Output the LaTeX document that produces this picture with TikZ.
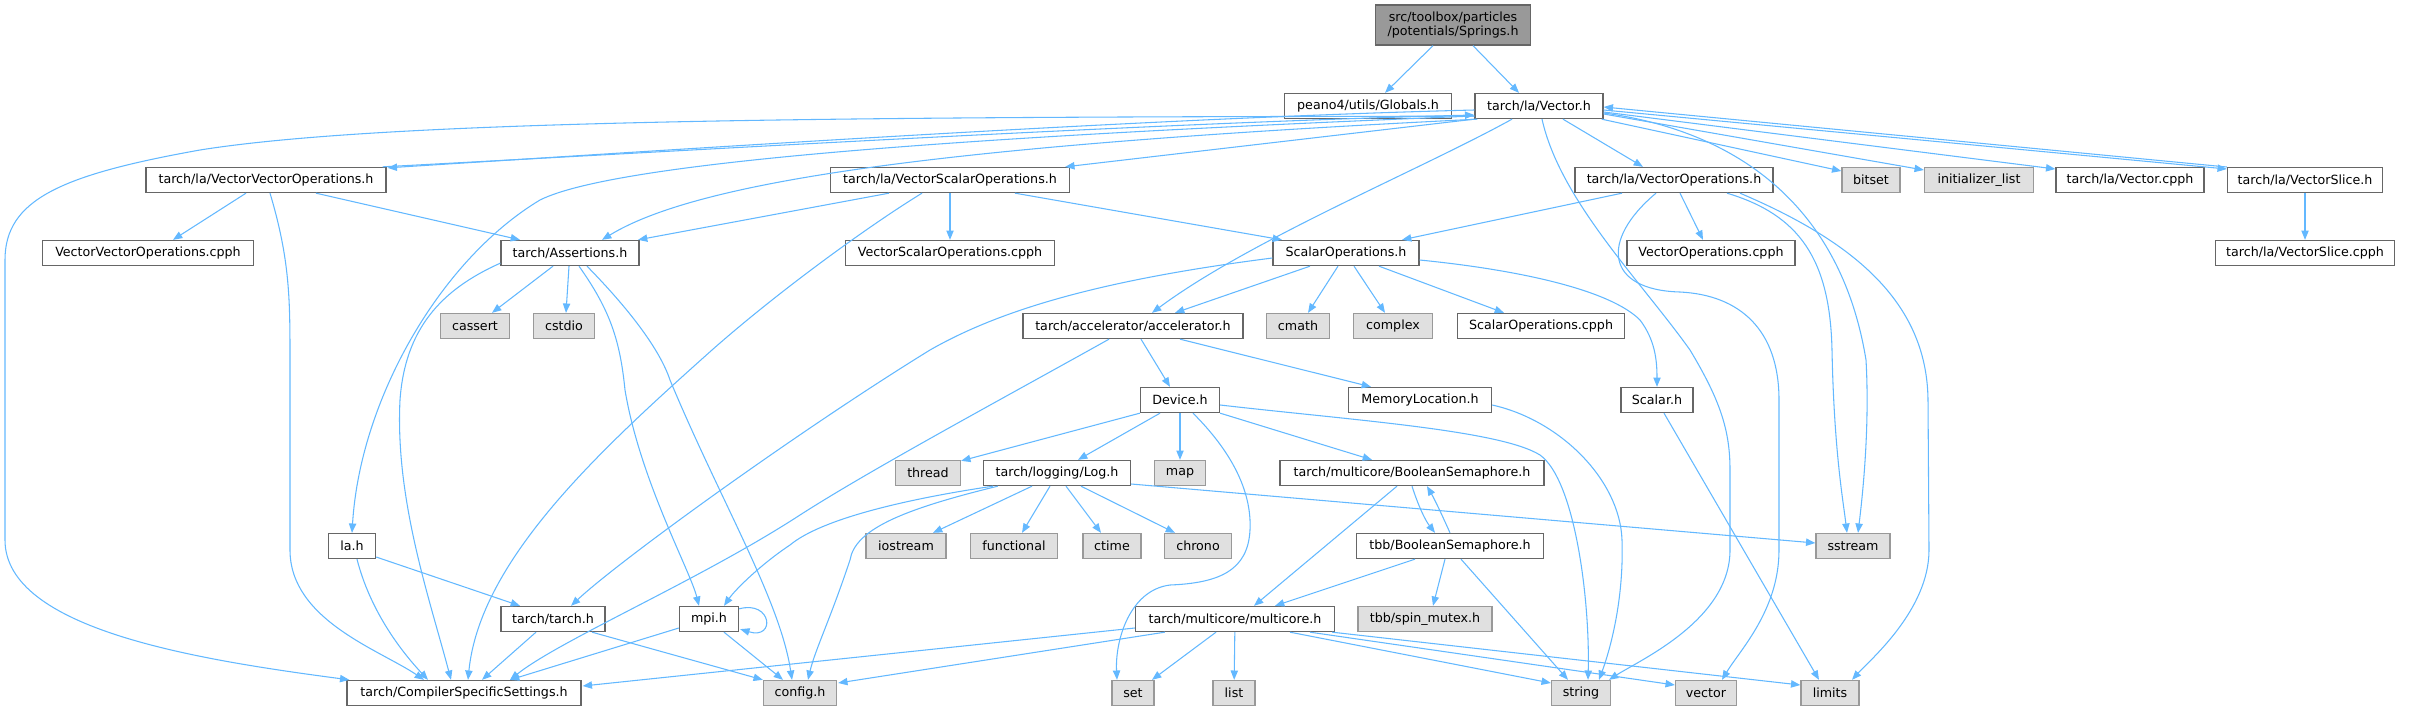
\documentclass[tikz,border=0pt]{standalone}
\usepackage{fontspec}
\setmainfont{DejaVu Sans}
\usetikzlibrary{arrows.meta,calc}
\definecolor{edgec}{HTML}{63B8FF}
\definecolor{bordc}{HTML}{666666}
\definecolor{sysfill}{HTML}{E0E0E0}
\definecolor{sysbord}{HTML}{999999}
\definecolor{rootfill}{HTML}{999999}
\begin{document}
\begin{tikzpicture}[x=0.75pt,y=-0.75pt,
  box/.style={draw=bordc,line width=1pt,fill=white,minimum height=18.75pt,inner xsep=1pt,inner ysep=0pt,font=\fontsize{9.5}{11}\selectfont,text=black},
  sys/.style={box,fill=sysfill,draw=sysbord},
  root/.style={box,fill=rootfill,minimum height=30pt,align=center},
  bw/.style={minimum width=#1*0.75pt},
  e/.style={draw=edgec,line width=0.8pt,-{Triangle[length=7pt,width=5.5pt]}}]
\useasboundingbox (0,0) rectangle (2417,711);
% row 0-1
\node[root,bw=155] (springs) at (1453,25) {src/toolbox/particles\\/potentials/Springs.h};
\node[box,bw=167] (globals) at (1368,106) {peano4/utils/Globals.h};
\node[box,bw=128] (vec) at (1539,106) {tarch/la/Vector.h};
% row 2
\node[box,bw=240] (vvo) at (266,180) {tarch/la/VectorVectorOperations.h};
\node[box,bw=239] (vso) at (950,180) {tarch/la/VectorScalarOperations.h};
\node[box,bw=198] (vo) at (1674,180) {tarch/la/VectorOperations.h};
\node[sys,bw=58] (bitset) at (1871,180) {bitset};
\node[sys,bw=109] (initl) at (1979,180) {initializer\_list};
\node[box,bw=148] (veccpph) at (2130,180) {tarch/la/Vector.cpph};
\node[box,bw=155] (vslice) at (2305,180) {tarch/la/VectorSlice.h};
% row 3
\node[box,bw=211] (vvocpph) at (148,253) {VectorVectorOperations.cpph};
\node[box,bw=138] (assert) at (570,253) {tarch/Assertions.h};
\node[box,bw=209] (vsocpph) at (950,253) {VectorScalarOperations.cpph};
\node[box,bw=146] (scalop) at (1346,253) {ScalarOperations.h};
\node[box,bw=168] (vocpph) at (1711,253) {VectorOperations.cpph};
\node[box,bw=179] (vslicecpph) at (2305,253) {tarch/la/VectorSlice.cpph};
% row 4
\node[sys,bw=69] (cassert) at (475,326) {cassert};
\node[sys,bw=61] (cstdio) at (564,326) {cstdio};
\node[box,bw=220] (accel) at (1133,326) {tarch/accelerator/accelerator.h};
\node[sys,bw=63] (cmath) at (1298,326) {cmath};
\node[sys,bw=79] (complex) at (1393,326) {complex};
\node[box,bw=167] (scalopcpph) at (1541,326) {ScalarOperations.cpph};
% row 5
\node[box,bw=79] (device) at (1180,400) {Device.h};
\node[box,bw=143] (memloc) at (1420,400) {MemoryLocation.h};
\node[box,bw=72] (scalar) at (1657,400) {Scalar.h};
% row 6
\node[sys,bw=65] (thread) at (928,473) {thread};
\node[box,bw=147] (log) at (1057,473) {tarch/logging/Log.h};
\node[sys,bw=51] (map) at (1180,473) {map};
\node[box,bw=264] (boolsem) at (1412,473) {tarch/multicore/BooleanSemaphore.h};
% row 7
\node[box,bw=47] (lah) at (352,546) {la.h};
\node[sys,bw=80] (iostream) at (906,546) {iostream};
\node[sys,bw=87] (functional) at (1014,546) {functional};
\node[sys,bw=58] (ctime) at (1112,546) {ctime};
\node[sys,bw=67] (chrono) at (1198,546) {chrono};
\node[box,bw=187] (tbbbool) at (1450,546) {tbb/BooleanSemaphore.h};
\node[sys,bw=74] (sstream) at (1853,546) {sstream};
% row 8
\node[box,bw=104] (tarchh) at (553,619) {tarch/tarch.h};
\node[box,bw=59] (mpih) at (709,619) {mpi.h};
\node[box,bw=199] (multicore) at (1235,619) {tarch/multicore/multicore.h};
\node[sys,bw=134] (spinmutex) at (1425,619) {tbb/spin\_mutex.h};
% row 9
\node[box,bw=234] (css) at (464,693) {tarch/CompilerSpecificSettings.h};
\node[sys,bw=73] (config) at (800,693) {config.h};
\node[sys,bw=42] (set) at (1133,693) {set};
\node[sys,bw=42] (list) at (1234,693) {list};
\node[sys,bw=59] (string) at (1581,693) {string};
\node[sys,bw=61] (vector) at (1706,693) {vector};
\node[sys,bw=58] (limits) at (1830,693) {limits};

% edges
\draw[e] ($(springs.south)+(-20,0)$) -- ($(globals.north)+(17,0)$);
\draw[e] ($(springs.south)+(20,0)$) -- ($(vec.north)+(-20,0)$);
\draw[e] ($(vec.west)+(0,4)$) .. controls (1150,118) and (700,148) .. ($(vvo.north east)+(1,1)$);
\draw[e] ($(vvo.north east)+(-4,0)$) .. controls (700,150) and (1150,123) .. ($(vec.west)+(0,9)$);
\draw[e] (vec.south west) -- ($(vso.north east)+(-5,0)$);
\draw[e] ($(vec.west)+(0,10)$) .. controls (1000,135) and (620,160) .. (540,200) .. controls (440,260) and (360,400) .. (lah.north);
\draw[e] ($(vec.south west)+(3,0)$) .. controls (950,145) and (700,180) .. ($(assert.north)+(32,0)$);
\draw[e] ($(vec.south west)+(0,-3)$) .. controls (900,117) and (400,118) .. (200,150) .. controls (60,175) and (5,200) .. (5,260) -- (5,540) .. controls (5,630) and (200,660) .. ($(css.north west)+(3,0)$);
\draw[e] ($(vvo.south)+(-20,0)$) -- ($(vvocpph.north)+(25,0)$);
\draw[e] ($(vvo.south)+(50,0)$) -- ($(assert.north)+(-50,0)$);
\draw[e] ($(vvo.south)+(4,0)$) .. controls (290,260) and (290,300) .. (290,360) -- (290,550) .. controls (290,620) and (380,650) .. ($(css.north)+(-40,0)$);
\draw[e] ($(assert.south)+(-17,0)$) -- ($(cassert.north)+(17,0)$);
\draw[e] ($(assert.south)+(-1,0)$) -- ($(cstdio.north)+(2,0)$);
\draw[e] ($(assert.south)+(9,0)$) .. controls (610,310) and (620,340) .. (625,390) .. controls (640,480) and (690,570) .. ($(mpih.north)+(-10,0)$);
\draw[e] ($(assert.south)+(17,0)$) .. controls (630,310) and (660,350) .. (670,380) .. controls (720,500) and (780,600) .. ($(config.north)+(-8,0)$);
\draw[e] ($(assert.south west)+(0,-3)$) .. controls (440,290) and (405,330) .. (400,400) .. controls (395,500) and (430,600) .. ($(css.north)+(-13,0)$);
\draw[e] ($(vso.south)+(-61,0)$) -- ($(assert.north)+(68,0)$);
\draw[e] (vso) -- (vsocpph);
\draw[e] ($(vso.south)+(65,0)$) -- ($(scalop.north)+(-64,0)$);
\draw[e] ($(vso.south)+(-28,0)$) .. controls (870,225) and (780,290) .. (712,350) .. controls (600,450) and (480,560) .. ($(css.north)+(4,0)$);
\draw[e] ($(vec.south)+(-27,0)$) .. controls (1420,170) and (1250,240) .. ($(accel.north)+(19,0)$);
\draw[e] ($(scalop.south)+(-36,0)$) -- ($(accel.north)+(42,0)$);
\draw[e] ($(scalop.south)+(-8,0)$) -- ($(cmath.north)+(10,0)$);
\draw[e] ($(scalop.south)+(8,0)$) -- ($(complex.north)+(-8,0)$);
\draw[e] ($(scalop.south)+(33,0)$) -- ($(scalopcpph.north)+(-37,0)$);
\draw[e] ($(scalop.east)+(0,7)$) .. controls (1520,270) and (1610,290) .. (1640,320) .. controls (1655,340) and (1657,360) .. (scalar.north);
\draw[e] ($(scalop.west)+(0,5)$) .. controls (1100,280) and (1000,310) .. (930,350) .. controls (800,430) and (620,560) .. ($(tarchh.north)+(18,0)$);
\draw[e] ($(vec.south)+(24,0)$) -- ($(vo.north)+(-31,0)$);
\draw[e] ($(vec.south east)+(-2,0)$) -- ($(bitset.west)+(0,-9)$);
\draw[e] ($(vec.east)+(0,8)$) -- ($(initl.west)+(0,-10)$);
\draw[e] ($(vec.east)+(0,6)$) -- ($(veccpph.west)+(0,-11)$);
\draw[e] ($(vec.east)+(0,4)$) -- ($(vslice.west)+(0,-11)$);
\draw[e] ($(vslice.west)+(0,-13)$) -- ($(vec.east)+(0,1)$);
\draw[e] (vslice) -- (vslicecpph);
\draw[e] ($(vo.south)+(-52,0)$) -- ($(scalop.north)+(56,0)$);
\draw[e] ($(vo.south)+(6,0)$) -- ($(vocpph.north)+(-8,0)$);
\draw[e] ($(vo.south)+(-18,0)$) .. controls (1600,240) and (1605,290) .. (1680,292) .. controls (1740,295) and (1779,330) .. (1779,400) -- (1779,550) .. controls (1779,610) and (1740,650) .. ($(vector.north)+(16,0)$);
\draw[e] ($(vo.south)+(53,0)$) .. controls (1800,215) and (1830,260) .. (1832,350) .. controls (1834,450) and (1843,500) .. ($(sstream.north)+(-6,0)$);
\draw[e] ($(vo.south)+(66,0)$) .. controls (1850,240) and (1927,300) .. (1928,400) -- (1929,550) .. controls (1929,610) and (1870,660) .. ($(limits.north)+(22,0)$);
\draw[e] ($(vec.south)+(3,0)$) .. controls (1560,200) and (1640,280) .. (1690,350) .. controls (1720,400) and (1730,430) .. (1730,470) -- (1730,550) .. controls (1730,620) and (1640,660) .. ($(string.north)+(28,0)$);
\draw[e] ($(vec.east)+(0,7)$) .. controls (1730,130) and (1840,200) .. (1866,360) .. controls (1870,430) and (1862,500) .. ($(sstream.north)+(5,0)$);
\draw[e] ($(accel.south)+(8,0)$) -- ($(device.north)+(-10,0)$);
\draw[e] ($(accel.south)+(47,0)$) -- ($(memloc.north)+(-49,0)$);
\draw[e] ($(accel.south)+(-24,0)$) .. controls (1000,400) and (870,470) .. (800,515) .. controls (700,580) and (560,640) .. ($(css.north)+(46,0)$);
\draw[e] (device.south west) -- ($(thread.north east)+(0,1)$);
\draw[e] ($(device.south)+(-20,0)$) -- ($(log.north)+(21,0)$);
\draw[e] (device) -- (map);
\draw[e] ($(device.south)+(13,0)$) .. controls (1230,450) and (1252,490) .. (1250,530) .. controls (1248,570) and (1220,583) .. (1170,585) .. controls (1130,590) and (1115,640) .. ($(set.north)+(-16,0)$);
\draw[e] (device.south east) -- ($(boolsem.north)+(-40,0)$);
\draw[e] ($(device.east)+(0,5)$) .. controls (1350,420) and (1500,430) .. (1540,455) .. controls (1575,480) and (1590,600) .. ($(string.north)+(7,0)$);
\draw[e] ($(memloc.east)+(0,5)$) .. controls (1560,420) and (1620,480) .. (1622,540) .. controls (1624,600) and (1610,650) .. ($(string.north)+(18,0)$);
\draw[e] ($(log.south)+(-25,0)$) -- ($(iostream.north)+(27,0)$);
\draw[e] ($(log.south)+(-7,0)$) -- ($(functional.north)+(8,0)$);
\draw[e] ($(log.south)+(9,0)$) -- ($(ctime.north)+(-11,0)$);
\draw[e] ($(log.south)+(24,0)$) -- ($(chrono.north)+(-23,0)$);
\draw[e] ($(log.east)+(0,11)$) -- ($(sstream.west)+(0,-3)$);
\draw[e] ($(log.south west)+(10,0)$) .. controls (900,500) and (820,520) .. (790,545) .. controls (760,565) and (735,590) .. ($(mpih.north)+(15,0)$);
\draw[e] ($(log.south west)+(15,0)$) .. controls (900,510) and (855,530) .. (850,560) .. controls (830,620) and (815,650) .. ($(config.north)+(8,0)$);
\draw[e] ($(boolsem.south)+(-15,0)$) -- ($(multicore.north)+(19,0)$);
\draw[e] (boolsem.south) .. controls (1418,505) and (1425,520) .. ($(tbbbool.north)+(-15,0)$);
\draw[e] (tbbbool.north) .. controls (1442,515) and (1435,500) .. ($(boolsem.south)+(15,0)$);
\draw[e] ($(tbbbool.south)+(-35,0)$) -- ($(multicore.north)+(40,0)$);
\draw[e] ($(tbbbool.south)+(-5,0)$) -- ($(spinmutex.north)+(8,0)$);
\draw[e] ($(tbbbool.south)+(11,0)$) -- ($(string.north)+(-13,0)$);
\draw[e] ($(lah.east)+(0,11)$) -- ($(tarchh.north)+(-33,0)$);
\draw[e] ($(lah.south)+(5,0)$) .. controls (370,610) and (400,650) .. ($(css.north)+(-36,0)$);
\draw[e] ($(tarchh.south)+(-17,0)$) -- ($(css.north)+(18,0)$);
\draw[e] ($(tarchh.south)+(39,0)$) -- (config.north west);
\draw[e] ($(mpih.west)+(0,9)$) -- ($(css.north)+(46,0)$);
\draw[e] ($(mpih.south)+(15,0)$) -- ($(config.north)+(-17,0)$);
\draw[e] ($(mpih.north east)+(0,3)$) .. controls (772,600) and (776,640) .. ($(mpih.south east)+(1,-3)$);
\draw[e] ($(multicore.west)+(0,9)$) -- ($(css.east)+(1,-7)$);
\draw[e] ($(multicore.south west)+(30,0)$) -- ($(config.east)+(1,-10)$);
\draw[e] ($(multicore.south)+(-19,0)$) -- ($(set.north)+(19,0)$);
\draw[e] (multicore) -- (list);
\draw[e] ($(multicore.south)+(55,0)$) -- ($(string.west)+(0,-10)$);
\draw[e] ($(multicore.south)+(75,0)$) -- ($(vector.west)+(0,-8)$);
\draw[e] ($(multicore.south east)+(-3,0)$) -- ($(limits.west)+(0,-8)$);
\draw[e] ($(scalar.south)+(7,0)$) -- ($(limits.north)+(-11,0)$);
\end{tikzpicture}
\end{document}
